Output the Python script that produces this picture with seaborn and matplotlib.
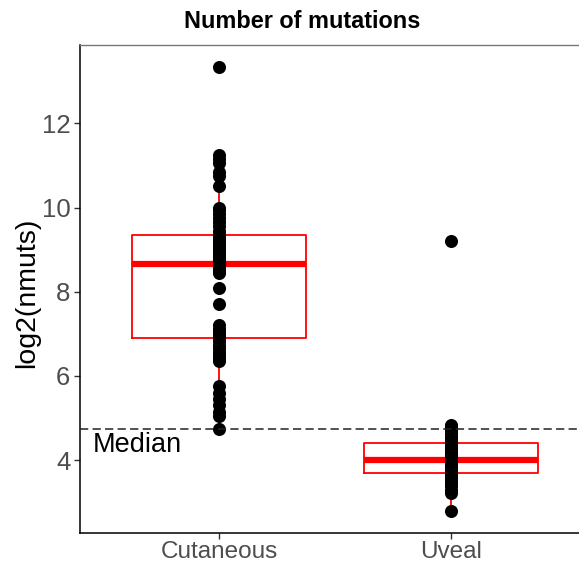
import matplotlib
matplotlib.use("Agg")
import matplotlib.pyplot as plt
import seaborn as sns
import pandas as pd

sns.set_theme(style="white")
plt.rcParams['font.family'] = ['Liberation Sans', 'DejaVu Sans']

categories = ["Cutaneous", "Uveal"]
cutaneous = [4.73, 5.05, 5.15, 5.3, 5.45, 5.6, 5.75, 6.35, 6.42, 6.5, 6.58, 6.66, 6.74, 6.82,
             6.90,
             6.98, 7.05, 7.12, 7.2, 7.7, 8.1, 8.45, 8.5, 8.54, 8.58, 8.61, 8.63, 8.65,
             8.66,
             8.72, 8.78, 8.84, 8.9, 8.96, 9.02, 9.08, 9.13, 9.18, 9.22, 9.26, 9.3, 9.33,
             9.35,
             9.45, 9.55, 9.65, 9.75, 9.85, 9.93, 10.0, 10.5, 10.75, 10.85, 11.05, 11.15, 11.25, 13.33]
uveal = [2.79, 3.22, 3.3, 3.38, 3.45, 3.5, 3.55, 3.6, 3.64, 3.67,
         3.69,
         3.73, 3.77, 3.81, 3.85, 3.89, 3.92, 3.95, 3.98, 4.0,
         4.01,
         4.05, 4.09, 4.13, 4.17, 4.21, 4.25, 4.29, 4.33, 4.37,
         4.40,
         4.45, 4.5, 4.55, 4.6, 4.65, 4.7, 4.75, 4.8, 4.83, 9.21]
median_ref = 4.75
yticks = [4, 6, 8, 10, 12]

df = pd.DataFrame({
    "group": [categories[0]] * len(cutaneous) + [categories[1]] * len(uveal),
    "nmuts": cutaneous + uveal,
})

W, H = 579, 565
fig = plt.figure(figsize=(W / 100, H / 100), dpi=100)
ax = fig.add_axes([80 / W, (H - 533) / H, (590 - 80) / W, (533 - 45) / H])

sns.boxplot(data=df, x="group", y="nmuts", order=categories, ax=ax,
            fill=False, color="red", linewidth=1.3, width=0.75,
            showfliers=False, showcaps=False,
            medianprops={"linewidth": 4.5, "color": "red"},
            whiskerprops={"color": "red"}, boxprops={"color": "red"})
sns.stripplot(data=df, x="group", y="nmuts", order=categories, ax=ax,
              jitter=False, color="black", size=9.4, linewidth=0, zorder=5)

ax.axhline(median_ref, color="#222222", lw=1.1, ls=(0, (5.4, 2.8)), zorder=6)
ax.text(-0.545, median_ref - 0.38, "Median", ha="left", va="center",
        fontsize=19.5, color="black", zorder=7)

ax.set_xlim(-0.6, 1.6)
ax.set_ylim(2.27, 13.86)
ax.set_yticks(yticks)
ax.set_yticklabels([str(t) for t in yticks])
ax.set_xlabel("")
ax.set_ylabel("")
ax.tick_params(axis="both", which="both", direction="out", length=4, width=1,
               color="#333333", labelcolor="#4D4D4D", left=True, bottom=True)
ax.tick_params(axis="y", labelsize=18.5, pad=3)
ax.tick_params(axis="x", labelsize=17.5, pad=1.5)

for s in ["left", "bottom"]:
    ax.spines[s].set_color("black")
    ax.spines[s].set_linewidth(1.1)
ax.spines["top"].set_color("#777777")
ax.spines["top"].set_linewidth(1.0)
ax.spines["right"].set_visible(False)

fig.text(27 / W, 1 - 293 / H, "log2(nmuts)", rotation=90, ha="center", va="center",
         fontsize=20.5, color="black")
fig.text(302.5 / W, 1 - 22 / H, "Number of mutations", ha="center", va="center",
         fontsize=16.9, fontweight="bold", color="black")

fig.savefig("out.png", dpi=100)
